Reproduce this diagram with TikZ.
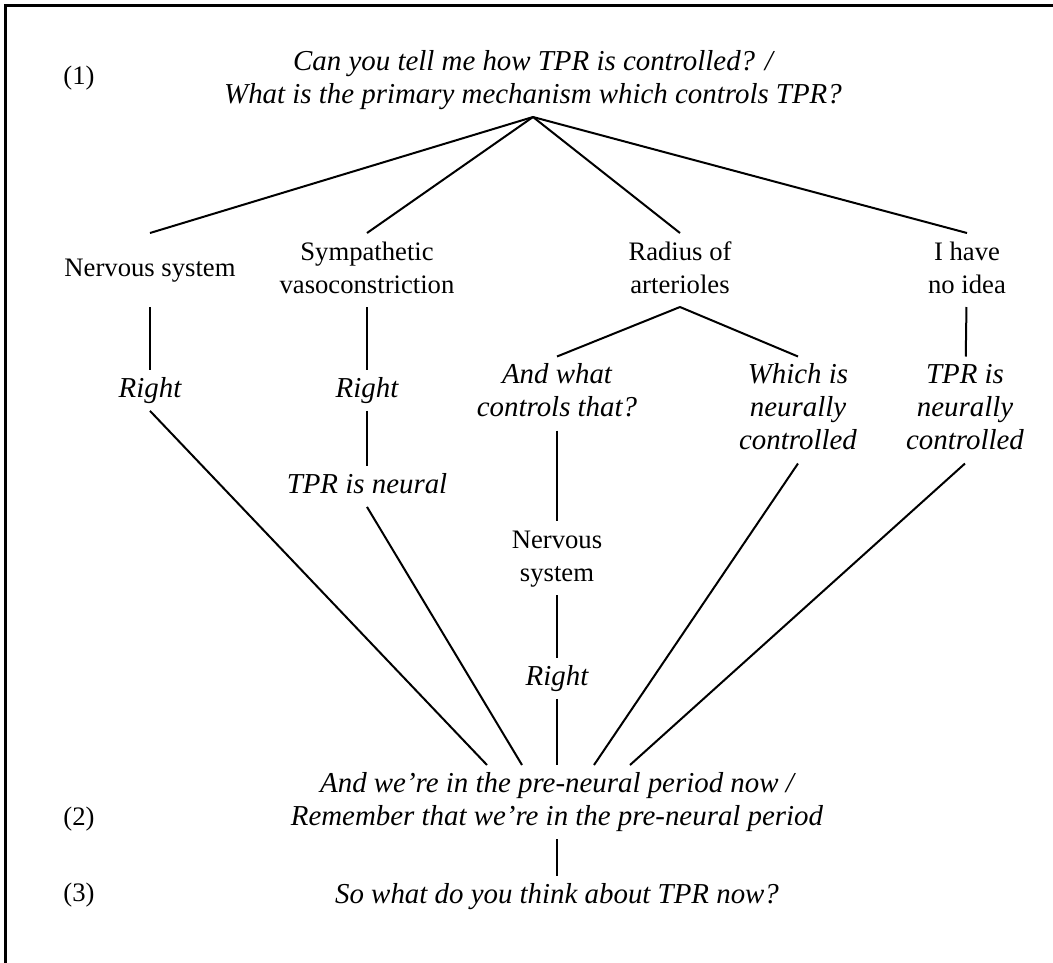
\documentclass[tikz,border=0pt]{standalone}
\usepackage{fontspec}
\setmainfont{Liberation Serif}
\usepackage{tikz}
\newcommand{\tpcell}[1]{\begin{tabular}{@{}c@{}}#1\end{tabular}}

\begin{document}
\begin{tikzpicture}[x=0.45pt, y=-0.45pt]
			\tikzstyle{every node} = [font=\fontsize{12}{14.85}\selectfont, inner xsep=0pt, inner ysep=1.35pt]
			\tikzstyle{answer} = [minimum height=32.4pt]
			\tikzstyle{tutor} = [font=\fontsize{13}{14.85}\selectfont\itshape]
			\useasboundingbox (0,0) rectangle (1053,963);
			\draw[line width=1.1pt] (5.5,963) -- (5.5,5.5) -- (1053,5.5);

			\begin{scope}
			\path[line width=0.9pt]

			node[tutor] (top) at (533,80) {\tpcell{Can you tell me how TPR is controlled? /\\What is the primary mechanism which controls TPR?}}
			node[answer] (nerv) at (150,270) {\tpcell{Nervous system}}
			node[answer] (symp) at (367,270) {\tpcell{Sympathetic\\vasoconstriction}}
			node[answer] (rad) at (680,270) {\tpcell{Radius of\\arterioles}}
			node[answer] (noid) at (967,270) {\tpcell{I have\\no idea}}
			node[tutor] (ra) at (150,390.4) {\tpcell{Right}}
			node[tutor] (rb) at (367,390.4) {\tpcell{Right}}
			node[tutor] (andw) at (557,393.5) {\tpcell{And what\\controls that?}}
			node[tutor] (which) at (798,410) {\tpcell{Which is\\neurally\\controlled}}
			node[tutor] (tprn) at (965,410) {\tpcell{TPR is\\neurally\\controlled}}
			node[tutor] (neur) at (367,486.4) {\tpcell{TPR is neural}}
			node (nervb) at (557,558) {\tpcell{Nervous\\system}}
			node[tutor] (rc) at (557,678.4) {\tpcell{Right}}
			node[tutor] (bot) at (557,802) {\tpcell{And we’re in the pre-neural period now /\\Remember that we’re in the pre-neural period}}
			node[tutor] (sowhat) at (557,896.4) {\tpcell{So what do you think about TPR now?}}
			node[anchor=base] (l1) at (79,84) {(1)}
			node[anchor=base] (l2) at (79,825) {(2)}
			node[anchor=base] (l3) at (79,901) {(3)}

			(top.south) edge (nerv.north)
			(top.south) edge (symp.north)
			(top.south) edge (rad.north)
			(top.south) edge (noid.north)
			(nerv) edge (ra)
			(symp) edge (rb)
			(rad.south) edge (andw.north)
			(rad.south) edge (which.north)
			(noid) edge (tprn)
			(rb) edge (neur)
			(andw) edge (nervb)
			(nervb) edge (rc)
			(ra.south) edge ([xshift=-31.5pt]bot.north)
			(neur.south) edge ([xshift=-15.75pt]bot.north)
			(rc) edge (bot)
			(which.south) edge ([xshift=16.65pt]bot.north)
			(tprn.south) edge ([xshift=32.85pt]bot.north)
			(bot) edge (sowhat)
			;
			\end{scope}

\end{tikzpicture}
\end{document}
